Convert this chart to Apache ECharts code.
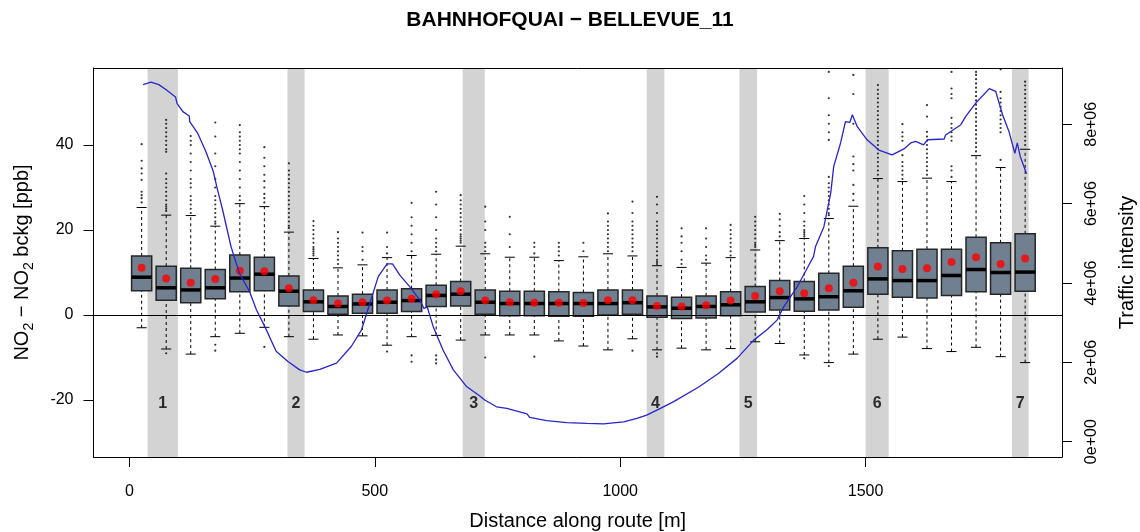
<!DOCTYPE html>
<html><head><meta charset="utf-8">
<script src="https://cdn.jsdelivr.net/npm/echarts@6/dist/echarts.min.js"></script>
<style>html,body{margin:0;padding:0;background:#fff}#c{width:1140px;height:532px}</style>
</head><body><div id="c"></div>
<script>
// ---- data ----
const positions   = [25,75,125,175,225,275,325,375,425,475,525,575,625,675,725,775,825,875,925,975,1025,1075,1125,1175,1225,1275,1325,1375,1425,1475,1525,1575,1625,1675,1725,1775,1825];
const whiskerLow  = [-3.0,-8.0,-9.2,-5.1,-4.3,-2.9,-5.1,-5.7,-4.7,-4.9,-7.1,-5.1,-4.8,-5.9,-4.7,-4.7,-4.7,-6.1,-7.3,-8.2,-5.6,-8.2,-7.8,-8.2,-7.9,-6.3,-6.7,-9.4,-11.2,-9.2,-5.7,-5.2,-7.9,-8.6,-7.6,-9.8,-11.2];
const q1          = [5.7,3.5,2.9,3.8,5.5,5.7,2.1,0.8,0.2,0.4,0.4,0.8,2.0,2.1,0.2,-0.2,-0.2,-0.3,-0.3,0.0,0.2,-0.5,-0.8,-0.7,-0.2,0.7,1.2,0.9,1.2,1.8,4.9,4.2,4.0,4.6,5.5,4.9,5.6];
const median      = [8.9,6.4,5.9,6.4,8.7,9.6,5.6,3.1,2.0,2.6,3.0,3.4,4.6,4.9,3.0,2.7,2.7,2.7,2.7,2.7,2.9,1.9,1.6,2.0,2.4,3.1,4.1,3.8,4.3,5.7,8.5,8.1,8.1,9.3,10.7,10.0,10.1];
const q3          = [13.9,11.5,11.0,10.7,14.1,13.6,9.2,5.9,4.5,4.9,5.9,6.2,7.0,7.9,5.9,5.6,5.6,5.5,5.3,5.9,5.9,4.5,4.2,4.5,5.5,6.7,8.1,7.9,9.8,11.5,15.8,15.1,15.5,15.5,18.3,17.0,19.1];
const whiskerHigh = [25.3,23.5,23.4,20.9,26.2,25.5,19.5,13.3,11.1,11.8,13.5,14.0,14.3,16.2,14.4,13.6,13.6,12.8,13.7,14.4,13.9,11.6,11.2,12.2,13.5,15.3,17.5,18.0,22.7,25.6,32.1,31.4,32.2,31.4,37.5,34.7,39.0];
const means       = [11.1,8.6,7.6,8.5,10.4,10.3,6.3,3.5,2.7,3.0,3.4,3.8,4.9,5.6,3.4,3.0,2.9,2.9,2.8,3.5,3.5,2.1,2.0,2.3,3.4,4.5,5.6,5.1,6.3,7.6,11.4,10.8,11.0,12.5,13.6,12.0,13.3];
const outliers = [
  [26.5,27.5,28.2,29,31.8,33.3,34.5,36.3,40.2],
  [-9.0,24.5,25,25.5,26,27,28,29,30,31,32,33.3,38.4,39,40,41,42,43,44,45,45.9],
  [24,25,26,27,28,30,31,32,34,36,38,40,41,42.1],
  [-8.4,-7,21.5,22,23,24,25,26,27,28,30,32,35,38,42,45.3],
  [27,28,30,32,34,36,38,39,40,41,42,43,44.7],
  [-7.5,26.5,27.5,28.5,30,31.5,33,35,37,39.5],
  [20.5,21,22,23,24,25,26,27,28,29,30,31,32,33,34,35.7],
  [14,14.5,15,15.5,16,17,18,19,20,21,22.1],
  [12,13,14,15,16,17,18,19.5],
  [13,15,16,19.4],
  [-8.6,14.5,16,19.4],
  [-11,-9.5,15,17,19,21,23,26.4],
  [-11.4,-10.5,-9.5,15,16,17,18,20,23,26,29],
  [17,17.5,18,18.5,19,20,21,22,23,24,25,26,27,28.2],
  [-10,15,16,17,20,22,25.5],
  [16,19,23.1],
  [-9.8,14.5,16,17],
  [14,15,16,17],
  [15,17],
  [15,16,17,18,19,20,21,22,23.9],
  [-8.4,15,16,17,18,19,20,21,22,24,26.7],
  [-9.8,-9,12,12.5,13,14,15,16,17,18,19,20,21,22,24,26,27.8],
  [12,13,15,17,18.5,20.4],
  [13,14,16,18,20.4],
  [14,15,16,17,18,19,20,21.2],
  [16,16.5,17,18,19,20,21,22,23.1],
  [18.5,19.5,21,22.5,23.8],
  [-10.2,18.5,19,19.5,20,21,22,24,26,28],
  [-12,23.5,24,25,26,27,28,29,30,31,32.5,41.2,43,45,47,51,57.2],
  [27,28.5,30.6,34,35.5,37.3,45,52,56.5],
  [33,34,35,36,37,38,39,40,41,42,43,44,45,46,47,48,49,50,51,52,53,54.1],
  [32,33,34,35,36,37.6,41,42,43,44.9],
  [33,34,35,36,37,38,39,40,41,42,43.1,46.7,49.4],
  [32.5,34,35,41,42,43,44,45,46.4,51,52,53.3,57.2],
  [38.5,39.5,40.5,41.5,42.5,43.5,44.5,45.5,46.5,47.5,48.5,49.5,50.5,51.5,52.5,53.5,54.5,55.5,56.5,57.2],
  [36.5,43,44,45,46,47,48,49,50,51,52.5,57.8],
  [40,41,42,43,44,45,46,47,48,49,50,51,52,53,54,54.9]
];
const trafficDist  = [28,44,60,75,94,97,109,122,123,139,156,171,178,190,207,224,245,259,276,299,323,347,361,388,422,452,473,490,507,525,536,551,571,592,600,607,619,639,660,687,714,724,748,769,810,816,850,891,932,966,1007,1034,1054,1082,1109,1160,1200,1238,1272,1299,1320,1333,1361,1381,1394,1398,1415,1429,1435,1449,1459,1468,1473,1483,1503,1527,1554,1578,1592,1602,1618,1626,1660,1663,1694,1704,1724,1752,1765,1779,1792,1804,1809,1815,1828];
const trafficValue = [9.0e6,9.06e6,9.0e6,8.87e6,8.69e6,8.53e6,8.32e6,8.21e6,8.07e6,7.78e6,7.31e6,6.81e6,6.43e6,5.84e6,4.92e6,4.25e6,3.78e6,3.32e6,2.90e6,2.28e6,2.02e6,1.81e6,1.75e6,1.82e6,1.98e6,2.40e6,2.82e6,3.49e6,4.16e6,4.48e6,4.48e6,4.2e6,3.91e6,3.57e6,3.36e6,3.39e6,2.9e6,2.31e6,1.81e6,1.39e6,1.15e6,1.05e6,0.88e6,0.84e6,0.70e6,0.61e6,0.53e6,0.48e6,0.46e6,0.45e6,0.50e6,0.59e6,0.67e6,0.84e6,1.01e6,1.38e6,1.72e6,2.10e6,2.56e6,2.82e6,3.07e6,3.4e6,3.91e6,4.37e6,4.67e6,4.92e6,5.42e6,6.27e6,6.94e6,7.53e6,8.07e6,8.05e6,8.24e6,7.94e6,7.61e6,7.35e6,7.23e6,7.38e6,7.53e6,7.57e6,7.48e6,7.61e6,7.63e6,7.73e6,7.99e6,8.2e6,8.53e6,8.9e6,8.83e6,8.24e6,7.82e6,7.27e6,7.53e6,7.19e6,6.75e6];
const bandStart  = [37,322,679,1054,1243,1500,1798];
const bandEnd    = [99,357,724,1090,1279,1547,1832];
const bandLabels = ['1','2','3','4','5','6','7'];
const bandLabelY = -20;
const xTicks = [0,500,1000,1500];
const yTicks = [-20,0,20,40];
const trafficTicks = [0,2e6,4e6,6e6,8e6];

// ---- chart ----
const FONT = 'Liberation Sans, Arial, sans-serif';
const BOX_W = 41;
const chart = echarts.init(document.getElementById('c'), null, {renderer:'canvas'});

const boxData = positions.map((p,i)=>[p, whiskerLow[i], q1[i], median[i], q3[i], whiskerHigh[i]]);
const outData = [];
outliers.forEach((arr,i)=>arr.forEach(v=>outData.push([positions[i], v])));
const meanData = positions.map((p,i)=>[p, means[i]]);
const lineData = trafficDist.map((d,i)=>[d, trafficValue[i]]);
const labelData = bandStart.map((s,i)=>[(s+bandEnd[i])/2, bandLabelY]);
const bandAreas = bandStart.map((s,i)=>[{xAxis:s},{xAxis:bandEnd[i]}]);

function sci(v){
  let s = Number(v).toExponential(0);
  return s.replace(/e([+-])(\d)$/, 'e$10$2');
}

const tickStyle = {color:'#000', width:1};

chart.setOption({
  animation:false,
  backgroundColor:'#fff',
  title:{
    text:'BAHNHOFQUAI \u2212 BELLEVUE_11', left:'center', top:10, padding:0,
    textStyle:{fontFamily:FONT, fontSize:21, fontWeight:'bold', color:'#000'}
  },
  grid:{left:93.5, right:78, top:68, bottom:75, show:false, containLabel:false, outerBoundsMode:'none'},
  xAxis:[{
    type:'value', min:-73.1, max:1900.1, position:'bottom', z:10,
    splitLine:{show:false},
    axisLine:{show:true, onZero:false, lineStyle:tickStyle},
    axisTick:{show:true, length:10, customValues:xTicks, lineStyle:tickStyle},
    axisLabel:{customValues:xTicks, formatter:v=>String(v), fontFamily:FONT, fontSize:16, color:'#000', margin:27},
    name:'Distance along route [m]', nameLocation:'middle', nameGap:54,
    nameTextStyle:{fontFamily:FONT, fontSize:20, color:'#000'}
  },{
    type:'value', min:-73.1, max:1900.1, position:'top', z:10,
    splitLine:{show:false},
    axisLine:{show:true, onZero:false, lineStyle:tickStyle},
    axisTick:{show:false}, axisLabel:{show:false}
  }],
  yAxis:[{
    type:'value', min:-33.41, max:58.12, position:'left', z:10,
    splitLine:{show:false},
    axisLine:{show:true, onZero:false, lineStyle:tickStyle},
    axisTick:{show:true, length:10, customValues:yTicks, lineStyle:tickStyle},
    axisLabel:{customValues:yTicks, fontFamily:FONT, fontSize:16, color:'#000', margin:20},
    name:'{n|NO}{s|2}{n| \u2212 NO}{s|2}{n| bckg [ppb]}', nameLocation:'middle', nameGap:57, nameRotate:90,
    nameTextStyle:{fontFamily:FONT, fontSize:20, color:'#000',
      rich:{n:{fontFamily:FONT, fontSize:20, color:'#000', lineHeight:28, verticalAlign:'middle'},
            s:{fontFamily:FONT, fontSize:14, color:'#000', lineHeight:28, verticalAlign:'bottom'}}}
  },{
    type:'value', min:-386000, max:9419000, position:'right', z:10,
    splitLine:{show:false},
    axisLine:{show:true, onZero:false, lineStyle:tickStyle},
    axisTick:{show:true, length:10, customValues:trafficTicks, lineStyle:tickStyle},
    axisLabel:{customValues:trafficTicks, rotate:90, formatter:sci, fontFamily:FONT, fontSize:16, color:'#000', margin:22},
    name:'Traffic intensity', nameLocation:'middle', nameGap:55, nameRotate:90,
    nameTextStyle:{fontFamily:FONT, fontSize:20, color:'#000'}
  }],
  series:[
    {
      type:'scatter', name:'bands', xAxisIndex:0, yAxisIndex:0, data:[], silent:true, z:1,
      markArea:{silent:true, itemStyle:{color:'#D3D3D3'}, label:{show:false}, data:bandAreas}
    },
    {
      type:'custom', name:'boxes', xAxisIndex:0, yAxisIndex:0, z:3, clip:true,
      encode:{x:0, y:[1,2,3,4,5]},
      data:boxData,
      renderItem:function(params, api){
        const x=api.value(0);
        const pLo=api.coord([x,api.value(1)]), pA=api.coord([x,api.value(2)]),
              pM=api.coord([x,api.value(3)]), pB=api.coord([x,api.value(4)]),
              pHi=api.coord([x,api.value(5)]);
        const hw = api.size([BOX_W,0])[0]/2;
        const cx = pM[0];
        const dash = {stroke:'#000', lineWidth:1, lineDash:[3,3], fill:null};
        const solid = {stroke:'#000', lineWidth:1, fill:null};
        return {type:'group', children:[
          {type:'line', shape:{x1:cx,y1:pB[1],x2:cx,y2:pHi[1]}, style:dash},
          {type:'line', shape:{x1:cx,y1:pLo[1],x2:cx,y2:pA[1]}, style:dash},
          {type:'line', shape:{x1:cx-hw/2,y1:pHi[1],x2:cx+hw/2,y2:pHi[1]}, style:solid},
          {type:'line', shape:{x1:cx-hw/2,y1:pLo[1],x2:cx+hw/2,y2:pLo[1]}, style:solid},
          {type:'rect', shape:{x:cx-hw,y:pB[1],width:2*hw,height:pA[1]-pB[1]}, style:{fill:'#708090', stroke:'#262626', lineWidth:1.5}},
          {type:'line', shape:{x1:cx-hw,y1:pM[1],x2:cx+hw,y2:pM[1]}, style:{stroke:'#000', lineWidth:3.5}}
        ]};
      },
      markLine:{silent:true, symbol:['none','none'], label:{show:false},
        lineStyle:{color:'#000', width:1, type:'solid'}, data:[{yAxis:0}]}
    },
    {
      type:'scatter', name:'outliers', xAxisIndex:0, yAxisIndex:0, z:3,
      symbol:'circle', symbolSize:2.2, itemStyle:{color:'#000'}, data:outData, silent:true
    },
    {
      type:'scatter', name:'means', xAxisIndex:0, yAxisIndex:0, z:4,
      symbol:'circle', symbolSize:8, itemStyle:{color:'#FF0000'}, data:meanData, silent:true
    },
    {
      type:'line', name:'traffic', xAxisIndex:0, yAxisIndex:1, z:5,
      showSymbol:false, symbol:'none', data:lineData, silent:true,
      lineStyle:{color:'#2626CC', width:1.3}
    },
    {
      type:'scatter', name:'bandLabels', xAxisIndex:0, yAxisIndex:0, z:6,
      symbolSize:0, data:labelData, silent:true,
      label:{show:true, position:'inside', offset:[0,4], formatter:p=>bandLabels[p.dataIndex],
        fontFamily:FONT, fontSize:16, fontWeight:'bold', color:'#000'}
    }
  ]
});
</script>
</body></html>
